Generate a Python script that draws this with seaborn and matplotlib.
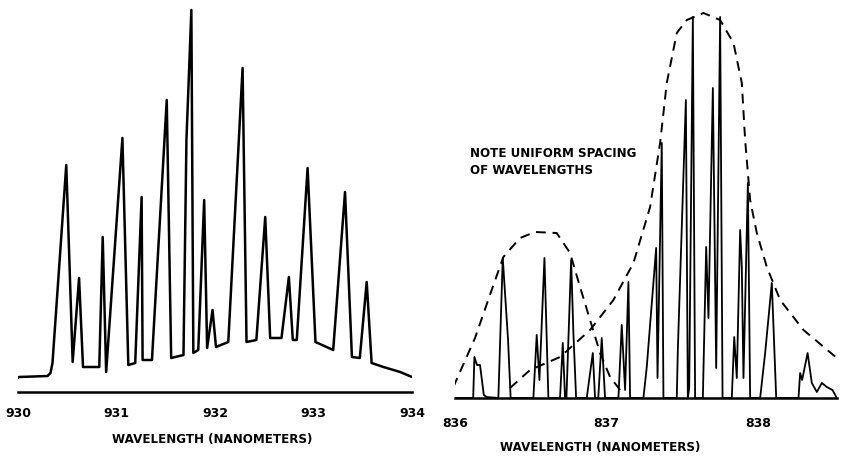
import numpy as np
import pandas as pd
import seaborn as sns
import matplotlib.pyplot as plt

# left spectrum (930-934 nm)
left_wl = [930.00, 930.01, 930.30, 930.33, 930.35, 930.49, 930.555, 930.62, 930.66, 930.825,
           930.86, 930.895, 931.06, 931.12, 931.19, 931.255, 931.265, 931.36, 931.51, 931.555,
           931.68, 931.71, 931.76, 931.78, 931.83, 931.89, 931.92, 931.975, 932.01, 932.135,
           932.28, 932.32, 932.42, 932.51, 932.56, 932.675, 932.75, 932.79, 932.83, 932.94,
           933.02, 933.20, 933.32, 933.39, 933.47, 933.54, 933.59, 933.71, 933.88, 934.00]
left_int = [14, 15, 16, 19, 29, 227, 30, 114, 25, 25,
            155, 20, 254, 27, 29, 195, 32, 32, 292, 34,
            37, 252, 382, 39, 42, 192, 44, 82, 45, 50,
            324, 50, 52, 175, 54, 54, 115, 52, 52, 224,
            50, 42, 200, 35, 34, 110, 29, 25, 20, 15]

# right spectrum (836-838.5 nm)
right_wl = [836.00, 836.12, 836.128, 836.145, 836.165, 836.19, 836.209, 836.286, 836.315, 836.35,
            836.367, 836.517, 836.539, 836.557, 836.590, 836.616, 836.693, 836.711, 836.726, 836.735,
            836.766, 836.781, 836.799, 836.869, 836.909, 836.924, 836.945, 836.968, 836.990, 837.078,
            837.100, 837.122, 837.144, 837.155, 837.243, 837.265, 837.327, 837.336, 837.364, 837.375,
            837.463, 837.470, 837.523, 837.536, 837.545, 837.569, 837.584, 837.635, 837.657, 837.672,
            837.701, 837.723, 837.749, 837.765, 837.826, 837.842, 837.859, 837.881, 837.892, 837.903,
            837.932, 837.947, 838.013, 838.046, 838.090, 838.119, 838.266, 838.277, 838.290, 838.326,
            838.354, 838.387, 838.420, 838.453, 838.490, 838.519]
right_int = [0, 0, 41, 33, 33, 3, 1, 0, 140, 58,
             0, 0, 63, 18, 140, 0, 0, 55, 0, 0,
             138, 65, 0, 0, 45, 0, 0, 60, 0, 0,
             73, 8, 116, 0, 0, 31, 150, 20, 255, 0,
             0, 48, 298, 0, 10, 381, 0, 0, 151, 80,
             310, 30, 381, 0, 0, 61, 20, 168, 131, 20,
             215, 0, 0, 45, 115, 0, 0, 25, 18, 45,
             15, 6, 15, 11, 8, 0]

# dashed envelopes
small_env_wl = [835.989, 836.132, 836.242, 836.319, 836.429, 836.528, 836.671, 836.759,
                836.825, 836.891, 836.957, 837.023, 837.089]
small_env_int = [11, 60, 108, 141, 160, 166, 165, 145, 111, 78, 45, 21, 8]
big_env_wl = [836.363, 836.495, 836.693, 836.891, 837.045, 837.177, 837.287, 837.353, 837.397,
              837.463, 837.529, 837.639, 837.749, 837.837, 837.892, 837.914, 837.947, 837.991,
              838.057, 838.145, 838.299, 838.519]
big_env_int = [10, 28, 41, 68, 98, 135, 191, 255, 315, 365, 378, 385, 378, 355, 315, 258,
               198, 165, 131, 98, 68, 40]

left_ticks = [930, 931, 932, 933, 934]
right_ticks = [836, 837, 838]
xlabel = "WAVELENGTH (NANOMETERS)"
note = "NOTE UNIFORM SPACING\nOF WAVELENGTHS"

sns.set_style("white")
plt.rcParams['font.family'] = ['DejaVu Sans']
plt.rcParams['text.color'] = 'black'
plt.rcParams['xtick.color'] = 'black'
plt.rcParams['axes.edgecolor'] = 'black'

fig = plt.figure(figsize=(8.48, 4.63), dpi=100)
W, H = 848, 463

def px_axes(x0, x1, ybase):
    return fig.add_axes([x0 / W, 1 - ybase / H, (x1 - x0) / W, ybase / H])

ax1 = px_axes(18, 412, 392)
df1 = pd.DataFrame({"wl": left_wl, "I": left_int})
sns.lineplot(data=df1, x="wl", y="I", sort=False, estimator=None, color="black", lw=1.8, ax=ax1)
ax1.set_xlim(930, 934)
ax1.set_ylim(0, 392)

ax2 = px_axes(455, 837, 398)
df2 = pd.DataFrame({"wl": right_wl, "I": right_int})
sns.lineplot(data=df2, x="wl", y="I", sort=False, estimator=None, color="black", lw=1.3, ax=ax2)
sns.lineplot(x=small_env_wl, y=small_env_int, sort=False, estimator=None, color="black",
             lw=1.4, linestyle=(0, (5, 3.5)), ax=ax2)
sns.lineplot(x=big_env_wl, y=big_env_int, sort=False, estimator=None, color="black",
             lw=1.4, linestyle=(0, (5, 3.5)), ax=ax2)
ax2.set_xlim(836.0, 838.52)
ax2.set_ylim(0, 398)

for ax, ticks in ((ax1, left_ticks), (ax2, right_ticks)):
    ax.patch.set_alpha(0)
    for s in ("top", "right", "left"):
        ax.spines[s].set_visible(False)
    ax.spines["bottom"].set_linewidth(1.8)
    ax.set_yticks([])
    ax.set_xticks(ticks)
    ax.set_xticklabels([str(t) for t in ticks], fontsize=9, fontweight="bold", color="black")
    ax.tick_params(axis="x", direction="inout", length=7, width=1.5, pad=7, colors="black")
    ax.set_xlabel("")
    ax.set_ylabel("")
ax2.tick_params(axis="x", pad=10)
ax2.set_xticks([836.5, 837.5], minor=True)
ax2.tick_params(axis="x", which="minor", direction="inout", length=5, width=1.3)

fig.text(212 / W, 1 - 440 / H, xlabel, ha="center", va="center", fontsize=8.6,
         fontweight="bold", color="black")
fig.text(600 / W, 1 - 448 / H, xlabel, ha="center", va="center", fontsize=8.6,
         fontweight="bold", color="black")
fig.text(470 / W, 1 - 147 / H, note, ha="left", va="top", fontsize=8.6, fontweight="bold",
         linespacing=1.4, color="black")

fig.savefig("out.png", dpi=100, facecolor="white")
